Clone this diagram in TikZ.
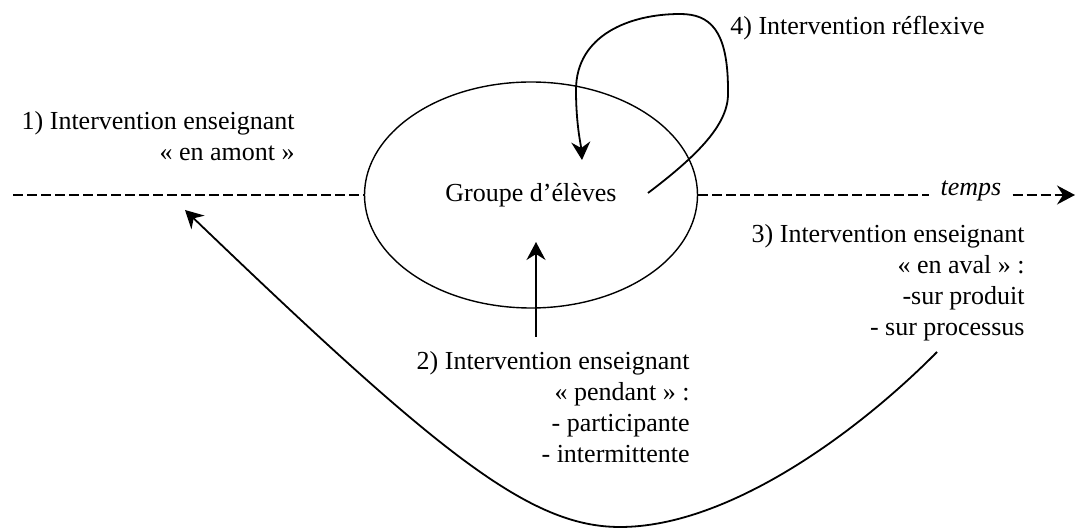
\documentclass[tikz,border=0pt]{standalone}
\usepackage{fontspec}
\setmainfont{Liberation Serif}
\usetikzlibrary{shapes.geometric,arrows.meta}
\begin{document}
\begin{tikzpicture}[x=0.5pt,y=-0.5pt]
      \tikzstyle{tnode} = [inner sep=0pt, align=right, font=\fontsize{13}{15.5}\selectfont]
      \tikzstyle{arr} = [line width=0.9pt, -{Stealth[length=9pt,width=9.5pt,inset=3pt]}]
      \tikzstyle{tline} = [line width=0.8pt, dash pattern=on 5pt off 2pt]
      \useasboundingbox (0,0) rectangle (1077,528);

      \node[ellipse, draw, line width=0.7pt, minimum width=166.5pt, minimum height=113pt, inner sep=0pt, font=\fontsize{13}{15.5}\selectfont] (grp) at (531,195) {Groupe d’élèves};
      \node[tnode, anchor=north east] (amont) at (295,111) {1) Intervention enseignant\\« en amont »};
      \node[tnode, anchor=north east] (pend) at (690,351) {2) Intervention enseignant\\« pendant » :\\- participante\\- intermittente};
      \node[tnode, anchor=north east] (aval) at (1025,224) {3) Intervention enseignant\\« en aval » :\\-sur produit\\- sur processus};
      \node[tnode, anchor=west, align=left] (refl) at (730,28) {4) Intervention réflexive};
      \node[tnode, inner sep=5.5pt, font=\fontsize{13}{15.5}\selectfont\itshape] (tps) at (971,191) {temps};

      \coordinate (t0) at (13,195);
      \coordinate (t1) at (1075,195);
      \coordinate (p2) at (536,242);
      \coordinate (l0) at (648,193);
      \coordinate (l1) at (582,160);
      \coordinate (c3) at (937,352);
      \coordinate (c1) at (185,210);

      \draw[tline] (t0) -- (grp.west);
      \draw[tline] (grp.east) -- (grp.east -| tps.west);
      \draw[tline, arr] (tps.east |- t1) -- (t1);

      \draw[arr, shorten <=7pt] (pend.north -| p2) -- (p2);
      \draw[arr] (l0) .. controls (705,150) and (730,120) .. (728,90) .. controls (728,30) and (710,14) .. (680,14) .. controls (630,14) and (576,35) .. (576,90) .. controls (576,125) and (581,145) .. (l1);
      \draw[arr] (c3) .. controls (860,430) and (730,527) .. (620,527) .. controls (530,527) and (440,455) .. (c1);
    \end{tikzpicture}
\end{document}
